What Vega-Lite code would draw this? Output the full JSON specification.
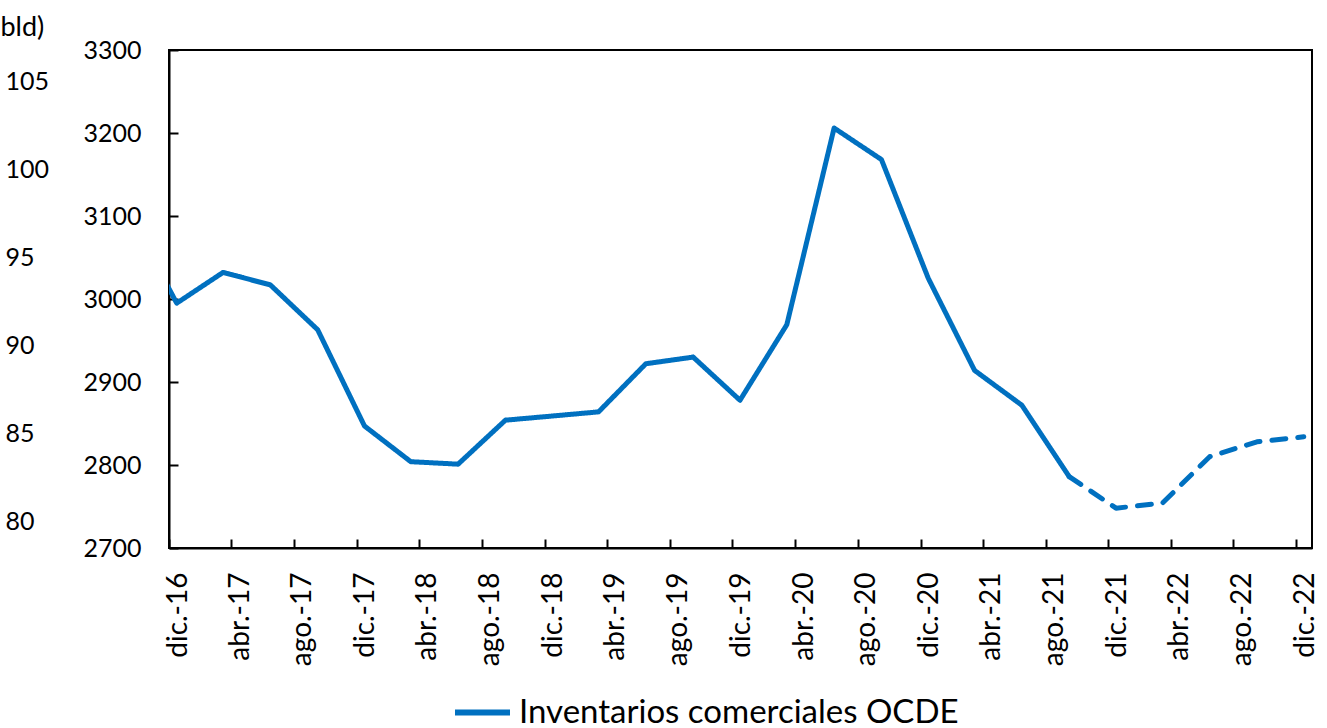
{
  "$schema": "https://vega.github.io/schema/vega-lite/v6.json",
  "autosize": {"type": "none"},
  "width": 1143,
  "height": 498,
  "padding": {"left": 169, "top": 50, "right": 15, "bottom": 180},
  "background": "white",
  "title": {
    "text": "(millones de barriles, fin de período)",
    "anchor": "start",
    "frame": "group",
    "dx": -84,
    "offset": 47,
    "baseline": "alphabetic",
    "font": "Lato",
    "fontSize": 27,
    "fontWeight": "normal",
    "color": "black"
  },
  "config": {
    "view": {"stroke": "black", "strokeWidth": 2},
    "axis": {"grid": false}
  },
  "layer": [
    {
      "data": {
        "values": [
          {"fecha": "2016-11-16", "valor": 3030, "tipo": "Histórico", "serie": "Inventarios comerciales OCDE"},
          {"fecha": "2016-12-16", "valor": 2995, "tipo": "Histórico", "serie": "Inventarios comerciales OCDE"},
          {"fecha": "2017-03-16", "valor": 3032, "tipo": "Histórico", "serie": "Inventarios comerciales OCDE"},
          {"fecha": "2017-06-16", "valor": 3017, "tipo": "Histórico", "serie": "Inventarios comerciales OCDE"},
          {"fecha": "2017-09-16", "valor": 2963, "tipo": "Histórico", "serie": "Inventarios comerciales OCDE"},
          {"fecha": "2017-12-16", "valor": 2847, "tipo": "Histórico", "serie": "Inventarios comerciales OCDE"},
          {"fecha": "2018-03-16", "valor": 2804, "tipo": "Histórico", "serie": "Inventarios comerciales OCDE"},
          {"fecha": "2018-06-16", "valor": 2801, "tipo": "Histórico", "serie": "Inventarios comerciales OCDE"},
          {"fecha": "2018-09-16", "valor": 2854, "tipo": "Histórico", "serie": "Inventarios comerciales OCDE"},
          {"fecha": "2018-12-16", "valor": 2859, "tipo": "Histórico", "serie": "Inventarios comerciales OCDE"},
          {"fecha": "2019-03-16", "valor": 2864, "tipo": "Histórico", "serie": "Inventarios comerciales OCDE"},
          {"fecha": "2019-06-16", "valor": 2922, "tipo": "Histórico", "serie": "Inventarios comerciales OCDE"},
          {"fecha": "2019-09-16", "valor": 2930, "tipo": "Histórico", "serie": "Inventarios comerciales OCDE"},
          {"fecha": "2019-12-16", "valor": 2878, "tipo": "Histórico", "serie": "Inventarios comerciales OCDE"},
          {"fecha": "2020-03-16", "valor": 2969, "tipo": "Histórico", "serie": "Inventarios comerciales OCDE"},
          {"fecha": "2020-06-16", "valor": 3206, "tipo": "Histórico", "serie": "Inventarios comerciales OCDE"},
          {"fecha": "2020-09-16", "valor": 3168, "tipo": "Histórico", "serie": "Inventarios comerciales OCDE"},
          {"fecha": "2020-12-16", "valor": 3025, "tipo": "Histórico", "serie": "Inventarios comerciales OCDE"},
          {"fecha": "2021-03-16", "valor": 2914, "tipo": "Histórico", "serie": "Inventarios comerciales OCDE"},
          {"fecha": "2021-06-16", "valor": 2872, "tipo": "Histórico", "serie": "Inventarios comerciales OCDE"},
          {"fecha": "2021-09-16", "valor": 2786, "tipo": "Histórico", "serie": "Inventarios comerciales OCDE"},
          {"fecha": "2021-09-16", "valor": 2786, "tipo": "Proyección", "serie": "Inventarios comerciales OCDE"},
          {"fecha": "2021-12-16", "valor": 2748, "tipo": "Proyección", "serie": "Inventarios comerciales OCDE"},
          {"fecha": "2022-03-16", "valor": 2754, "tipo": "Proyección", "serie": "Inventarios comerciales OCDE"},
          {"fecha": "2022-06-16", "valor": 2810, "tipo": "Proyección", "serie": "Inventarios comerciales OCDE"},
          {"fecha": "2022-09-16", "valor": 2828, "tipo": "Proyección", "serie": "Inventarios comerciales OCDE"},
          {"fecha": "2022-12-16", "valor": 2834, "tipo": "Proyección", "serie": "Inventarios comerciales OCDE"}
        ]
      },
      "mark": {"type": "line", "clip": true, "strokeWidth": 5, "strokeCap": "round", "strokeJoin": "round"},
      "encoding": {
        "x": {
          "field": "fecha",
          "type": "temporal",
          "scale": {
            "type": "utc",
            "domain": [
              {"year": 2016, "month": 12, "date": 1, "utc": true},
              {"year": 2023, "month": 1, "date": 1, "utc": true}
            ],
            "nice": false
          },
          "axis": {
            "title": null,
            "values": [
              {"year": 2016, "month": 12, "date": 1, "utc": true},
              {"year": 2017, "month": 4, "date": 1, "utc": true},
              {"year": 2017, "month": 8, "date": 1, "utc": true},
              {"year": 2017, "month": 12, "date": 1, "utc": true},
              {"year": 2018, "month": 4, "date": 1, "utc": true},
              {"year": 2018, "month": 8, "date": 1, "utc": true},
              {"year": 2018, "month": 12, "date": 1, "utc": true},
              {"year": 2019, "month": 4, "date": 1, "utc": true},
              {"year": 2019, "month": 8, "date": 1, "utc": true},
              {"year": 2019, "month": 12, "date": 1, "utc": true},
              {"year": 2020, "month": 4, "date": 1, "utc": true},
              {"year": 2020, "month": 8, "date": 1, "utc": true},
              {"year": 2020, "month": 12, "date": 1, "utc": true},
              {"year": 2021, "month": 4, "date": 1, "utc": true},
              {"year": 2021, "month": 8, "date": 1, "utc": true},
              {"year": 2021, "month": 12, "date": 1, "utc": true},
              {"year": 2022, "month": 4, "date": 1, "utc": true},
              {"year": 2022, "month": 8, "date": 1, "utc": true},
              {"year": 2022, "month": 12, "date": 1, "utc": true}
            ],
            "labelExpr": "['ene.','feb.','mar.','abr.','may.','jun.','jul.','ago.','sep.','oct.','nov.','dic.'][utcmonth(datum.value)] + '-' + utcFormat(datum.value, '%y')",
            "labelAngle": -90,
            "labelAlign": "right",
            "labelBaseline": "middle",
            "labelOffset": 9,
            "labelPadding": 33,
            "labelFont": "Lato",
            "labelFontSize": 28,
            "labelColor": "black",
            "labelOverlap": false,
            "labelFlush": false,
            "tickSize": -9,
            "tickWidth": 2,
            "tickColor": "black",
            "domainColor": "black",
            "domainWidth": 2
          }
        },
        "y": {
          "field": "valor",
          "type": "quantitative",
          "scale": {"domain": [2700, 3300], "nice": false, "zero": false},
          "axis": {
            "title": null,
            "format": "d",
            "values": [2700, 2800, 2900, 3000, 3100, 3200, 3300],
            "labelFont": "Lato",
            "labelFontSize": 25,
            "labelColor": "black",
            "labelPadding": 37,
            "labelOverlap": false,
            "labelFlush": false,
            "tickSize": -9,
            "tickWidth": 2,
            "tickColor": "black",
            "domainColor": "black",
            "domainWidth": 2
          }
        },
        "color": {
          "field": "serie",
          "type": "nominal",
          "scale": {"range": ["#0070C0"]},
          "legend": {
            "orient": "none",
            "legendX": 283,
            "legendY": 632,
            "title": null,
            "padding": 0,
            "symbolType": "stroke",
            "symbolSize": 3025,
            "symbolStrokeWidth": 6,
            "labelFont": "Lato",
            "labelFontSize": 33,
            "labelColor": "black",
            "labelOffset": 6,
            "labelLimit": 1000
          }
        },
        "strokeDash": {
          "field": "tipo",
          "type": "nominal",
          "scale": {"domain": ["Histórico", "Proyección"], "range": [[1, 0], [14, 12]]},
          "legend": null
        }
      }
    },
    {
      "data": {"values": [{"v": 80}, {"v": 105}]},
      "mark": {"type": "point", "opacity": 0},
      "encoding": {
        "y": {
          "field": "v",
          "type": "quantitative",
          "scale": {"domain": [78.49, 106.82], "nice": false, "zero": false},
          "axis": {
            "orient": "left",
            "offset": 164,
            "values": [80, 85, 90, 95, 100, 105],
            "domain": false,
            "ticks": false,
            "tickSize": 0,
            "labelPadding": 0,
            "labelAlign": "left",
            "labelFont": "Lato",
            "labelFontSize": 25,
            "labelColor": "black",
            "labelOverlap": false,
            "labelFlush": false,
            "title": "bld)",
            "titleAngle": 0,
            "titleAlign": "left",
            "titleBaseline": "alphabetic",
            "titleX": -5,
            "titleY": -15,
            "titleFont": "Lato",
            "titleFontSize": 27,
            "titleFontWeight": "normal",
            "titleColor": "black"
          }
        }
      }
    }
  ],
  "resolve": {"scale": {"y": "independent"}, "axis": {"y": "independent"}}
}
